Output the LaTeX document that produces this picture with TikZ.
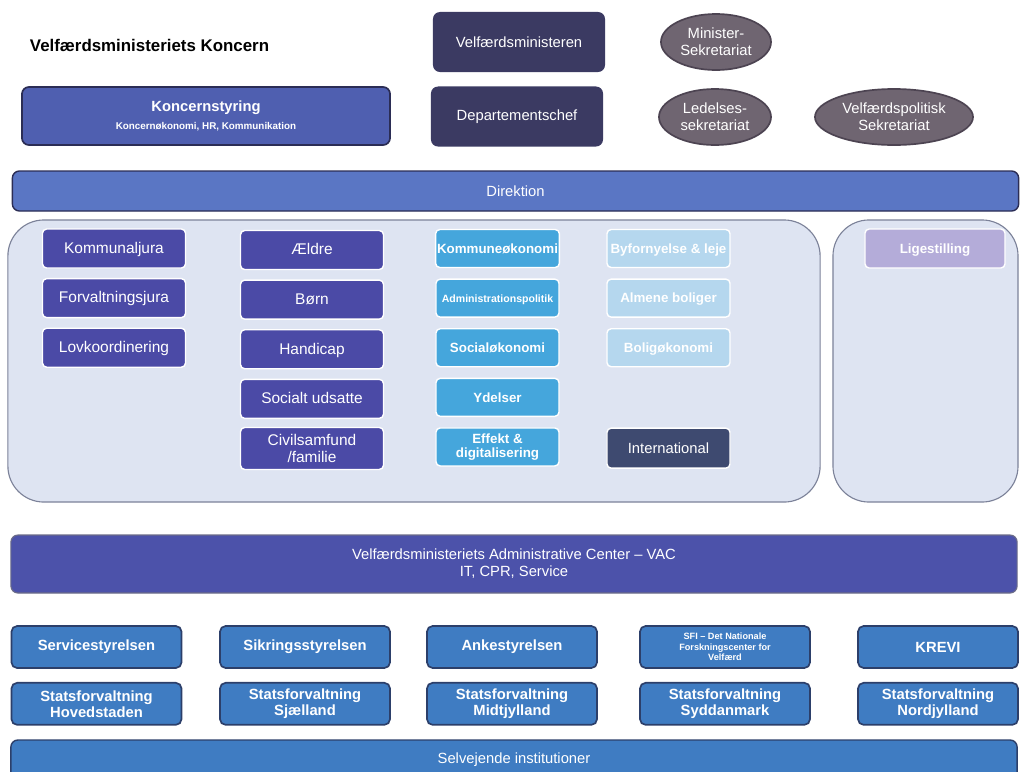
\documentclass[tikz,border=0pt]{standalone}
\usepackage{fontspec}
\setmainfont{Liberation Sans}
\usetikzlibrary{positioning,shapes.geometric}
\definecolor{vmnavy}{HTML}{3B3A62}
\definecolor{vmintl}{HTML}{3E4A70}
\definecolor{vmkoncern}{HTML}{4F5FB0}
\definecolor{vmdark}{HTML}{2B2D55}
\definecolor{vmdirek}{HTML}{5A76C4}
\definecolor{vmcont}{HTML}{DEE4F2}
\definecolor{vmcontline}{HTML}{7C8299}
\definecolor{vmpurple}{HTML}{4B4AA6}
\definecolor{vmsky}{HTML}{45A6DC}
\definecolor{vmpale}{HTML}{B5D7EE}
\definecolor{vmlige}{HTML}{B4ACD9}
\definecolor{vmvac}{HTML}{4C52AA}
\definecolor{vmagency}{HTML}{3F7CC2}
\definecolor{vmagline}{HTML}{2C3F6A}
\definecolor{vmsekr}{HTML}{6F6571}
\definecolor{vmsekrline}{HTML}{4D4452}

\begin{document}
\begin{tikzpicture}[x=0.025cm,y=-0.025cm,node distance=1.24cm,on grid,
   lbl/.style={text=white,align=center,inner sep=1pt,font=\fontsize{10.5}{12}\selectfont},
   topbox/.style={lbl,rounded corners=5pt,fill=vmnavy,minimum width=4.3cm,minimum height=1.5cm},
   sekr/.style={lbl,ellipse,fill=vmsekr,draw=vmsekrline,line width=1.2pt,minimum height=1.4cm},
   bar/.style={lbl,rounded corners=5pt,minimum width=25.15cm},
   container/.style={fill=vmcont,draw=vmcontline,line width=0.8pt,rounded corners=0.9cm},
   purplebox/.style={lbl,rounded corners=3pt,fill=vmpurple,draw=white,line width=1pt,
      minimum width=3.575cm,minimum height=0.975cm,text height=1.6ex,text depth=.3ex,
      font=\fontsize{11}{12.5}\selectfont},
   skybox/.style={lbl,rounded corners=3pt,fill=vmsky,draw=white,line width=1pt,
      minimum width=3.075cm,minimum height=0.95cm,text height=1.6ex,text depth=.3ex,
      font=\bfseries\fontsize{9.5}{10.5}\selectfont},
   palebox/.style={skybox,fill=vmpale},
   agency/.style={lbl,rounded corners=4pt,fill=vmagency,draw=vmagline,line width=1.2pt,
      minimum width=4.25cm,minimum height=1.05cm,font=\bfseries\fontsize{10.5}{11.5}\selectfont}]
   \useasboundingbox (0,0) rectangle (1020,771);
   % top of the tree
   \node[anchor=west,font=\bfseries\fontsize{12}{14}\selectfont] (vmtitle) at (25,45) {Velfærdsministeriets Koncern};
   \node[topbox] (vmminister) at (519,42) {Velfærdsministeren};
   \node[topbox] (vmdepchef) at (517,116.5) {Departementschef};
   \node[lbl,rounded corners=5pt,fill=vmkoncern,draw=vmdark,line width=1.2pt,minimum width=9.2cm,minimum height=1.45cm]
      (vmkstyr) at (206,116) {{\bfseries Koncernstyring}\\[1pt]{\bfseries\fontsize{7}{8}\selectfont Koncernøkonomi, HR, Kommunikation}};
   \node[sekr,minimum width=2.75cm] (vmminsekr) at (716,42) {Minister-\\Sekretariat};
   \node[sekr,minimum width=2.8cm] (vmledsekr) at (715,117) {Ledelses-\\sekretariat};
   \node[sekr,minimum width=3.95cm] (vmpolsekr) at (894,117) {Velfærdspolitisk\\Sekretariat};
   \node[bar,fill=vmdirek,draw=vmdark,line width=1pt,minimum height=1cm] (vmdirektion) at (515.5,191) {Direktion};
   % the offices
   \node[container,minimum width=20.3cm,minimum height=7.05cm] (vmkontorer) at (414,361) {};
   \node[container,minimum width=4.625cm,minimum height=7.05cm] (vmligekontor) at (925.5,361) {};
   \node[purplebox] (vmkjura) at (114,248.5) {Kommunaljura};
   \node[purplebox] (vmfjura) [below=of vmkjura] {Forvaltningsjura};
   \node[purplebox] (vmlovk) [below=of vmfjura] {Lovkoordinering};
   \node[purplebox] (vmaeldre) at (312,250) {Ældre};
   \node[purplebox] (vmboern) [below=of vmaeldre] {Børn};
   \node[purplebox] (vmhandicap) [below=of vmboern] {Handicap};
   \node[purplebox] (vmudsatte) [below=of vmhandicap] {Socialt udsatte};
   \node[purplebox,text height=,text depth=,minimum height=1.05cm] (vmcivil) [below=of vmudsatte] {Civilsamfund\\/familie};
   \node[skybox] (vmkoek) at (497.5,248.5) {Kommuneøkonomi};
   \node[skybox,font=\bfseries\fontsize{7.5}{9}\selectfont] (vmadmpol) [below=of vmkoek] {Administrationspolitik};
   \node[skybox] (vmsocoek) [below=of vmadmpol] {Socialøkonomi};
   \node[skybox] (vmydelser) [below=of vmsocoek] {Ydelser};
   \node[skybox,text height=,text depth=] (vmeffekt) [below=of vmydelser] {Effekt \&\\digitalisering};
   \node[palebox] (vmbyforn) at (668.5,248.5) {Byfornyelse \& leje};
   \node[palebox] (vmalmene) [below=of vmbyforn] {Almene boliger};
   \node[palebox] (vmboligoek) [below=of vmalmene] {Boligøkonomi};
   \node[lbl,rounded corners=3pt,fill=vmintl,draw=white,line width=1pt,minimum width=3.075cm,minimum height=1cm,
      font=\fontsize{10.5}{12}\selectfont] (vmintl) [below=2.51cm of vmboligoek] {International};
   \node[palebox,fill=vmlige,minimum width=3.5cm,minimum height=0.975cm] (vmlige) at (935,248.5) {Ligestilling};
   % centre and agencies
   \node[bar,fill=vmvac,draw=vmdark!70,line width=0.8pt,minimum height=1.45cm] (vmvac) at (514,564)
      {Velfærdsministeriets Administrative Center – VAC\\IT, CPR, Service};
   \node[agency] (vmservice) at (96.5,647) {Servicestyrelsen};
   \node[agency] (vmsikring) at (305,647) {Sikringsstyrelsen};
   \node[agency] (vmanke) at (512,647) {Ankestyrelsen};
   \node[agency,font=\bfseries\fontsize{6.5}{7.5}\selectfont] (vmsfi) at (725,647) {SFI – Det Nationale\\Forskningscenter for\\Velfærd};
   \node[agency,minimum width=4cm] (vmkrevi) at (938,647) {KREVI};
   \node[agency] (vmsfhov) [below=1.42cm of vmservice] {Statsforvaltning\\Hovedstaden};
   \node[agency] (vmsfsj) [below=1.42cm of vmsikring] {Statsforvaltning\\Sjælland};
   \node[agency] (vmsfmid) [below=1.42cm of vmanke] {Statsforvaltning\\Midtjylland};
   \node[agency] (vmsfsyd) [below=1.42cm of vmsfi] {Statsforvaltning\\Syddanmark};
   \node[agency,minimum width=4cm] (vmsfnord) [below=1.42cm of vmkrevi] {Statsforvaltning\\Nordjylland};
   \node[bar,fill=vmagency,draw=vmagline,line width=1pt,minimum height=1cm] (vmselv) at (514,760) {Selvejende institutioner};
\end{tikzpicture}
\end{document}
